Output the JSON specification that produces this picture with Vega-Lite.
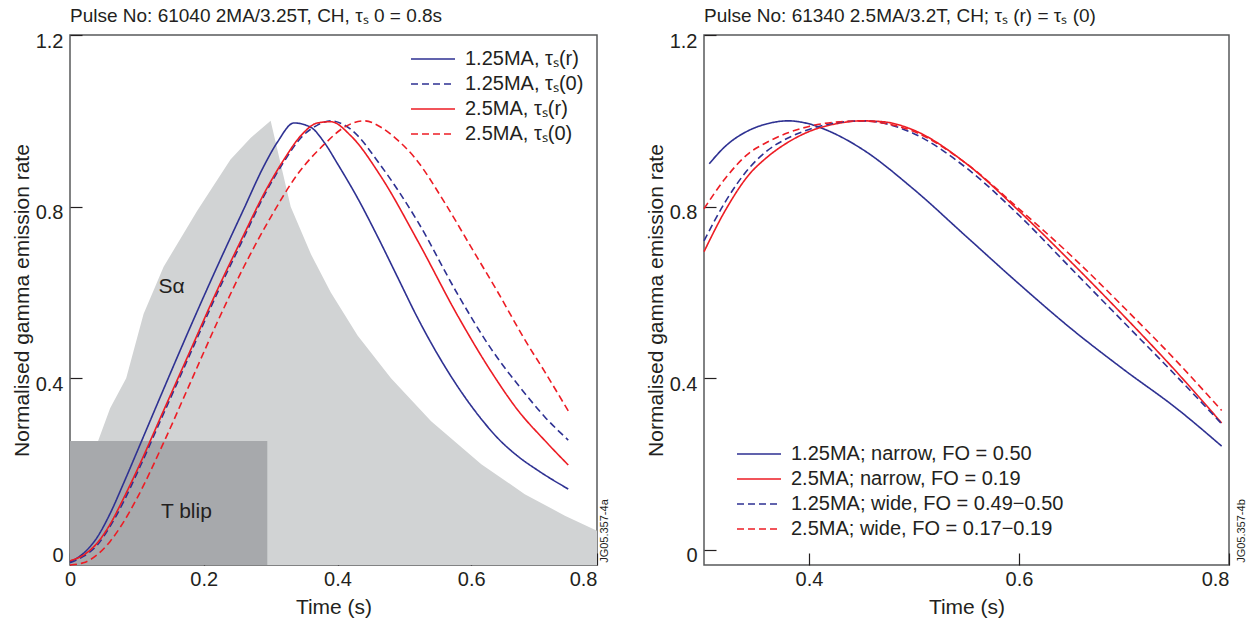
{
  "$schema": "https://vega.github.io/schema/vega-lite/v6.json",
  "padding": {"left": 10, "top": 6, "right": 5, "bottom": 5},
  "spacing": 107,
  "bounds": "flush",
  "background": "white",
  "config": {
    "font": "Liberation Sans",
    "view": {"stroke": "#58595b", "strokeWidth": 1.5},
    "axis": {"domain": false, "grid": false, "tickSize": -12, "tickColor": "#231f20", "tickWidth": 1.2, "labelFontSize": 20, "titleFontSize": 21, "labelColor": "#231f20", "titleColor": "#231f20", "titleFontWeight": "normal"},
    "axisX": {"labelPadding": 16, "titlePadding": 7},
    "axisY": {"labelPadding": 19, "titlePadding": 3},
    "legend": {"labelFontSize": 20, "labelColor": "#231f20", "symbolType": "M-2,0H2", "symbolStrokeWidth": 1.6, "symbolSize": 484, "rowPadding": 3, "padding": 0, "labelOffset": 20, "labelLimit": 500},
    "title": {"fontSize": 19, "fontWeight": "normal", "anchor": "start", "color": "#231f20", "offset": 5, "frame": "group"}
  },
  "datasets": {
    "sa": [
      {"t": 0, "v": -0.035}, {"t": 0.03, "v": 0.15}, {"t": 0.042, "v": 0.254}, {"t": 0.06, "v": 0.33}, {"t": 0.084, "v": 0.40},
      {"t": 0.11, "v": 0.55}, {"t": 0.14, "v": 0.66}, {"t": 0.19, "v": 0.79}, {"t": 0.24, "v": 0.91}, {"t": 0.27, "v": 0.96},
      {"t": 0.30, "v": 1.0}, {"t": 0.315, "v": 0.9}, {"t": 0.33, "v": 0.8}, {"t": 0.36, "v": 0.69}, {"t": 0.39, "v": 0.6},
      {"t": 0.43, "v": 0.5}, {"t": 0.48, "v": 0.4}, {"t": 0.54, "v": 0.3}, {"t": 0.615, "v": 0.2}, {"t": 0.68, "v": 0.13},
      {"t": 0.74, "v": 0.08}, {"t": 0.788, "v": 0.045}
    ],
    "left": [
      {"s": "1.25MA, τₛ(r)", "t": 0, "v": -0.028}, {"s": "1.25MA, τₛ(r)", "t": 0.02, "v": -0.008}, {"s": "1.25MA, τₛ(r)", "t": 0.04, "v": 0.028},
      {"s": "1.25MA, τₛ(r)", "t": 0.06, "v": 0.085}, {"s": "1.25MA, τₛ(r)", "t": 0.08, "v": 0.155}, {"s": "1.25MA, τₛ(r)", "t": 0.10, "v": 0.228},
      {"s": "1.25MA, τₛ(r)", "t": 0.14, "v": 0.375}, {"s": "1.25MA, τₛ(r)", "t": 0.18, "v": 0.52}, {"s": "1.25MA, τₛ(r)", "t": 0.22, "v": 0.66},
      {"s": "1.25MA, τₛ(r)", "t": 0.26, "v": 0.795}, {"s": "1.25MA, τₛ(r)", "t": 0.29, "v": 0.895}, {"s": "1.25MA, τₛ(r)", "t": 0.31, "v": 0.95},
      {"s": "1.25MA, τₛ(r)", "t": 0.335, "v": 0.995}, {"s": "1.25MA, τₛ(r)", "t": 0.36, "v": 0.985}, {"s": "1.25MA, τₛ(r)", "t": 0.38, "v": 0.95},
      {"s": "1.25MA, τₛ(r)", "t": 0.40, "v": 0.90}, {"s": "1.25MA, τₛ(r)", "t": 0.43, "v": 0.82}, {"s": "1.25MA, τₛ(r)", "t": 0.46, "v": 0.73},
      {"s": "1.25MA, τₛ(r)", "t": 0.49, "v": 0.635}, {"s": "1.25MA, τₛ(r)", "t": 0.52, "v": 0.54}, {"s": "1.25MA, τₛ(r)", "t": 0.55, "v": 0.455},
      {"s": "1.25MA, τₛ(r)", "t": 0.58, "v": 0.38}, {"s": "1.25MA, τₛ(r)", "t": 0.61, "v": 0.315}, {"s": "1.25MA, τₛ(r)", "t": 0.64, "v": 0.26},
      {"s": "1.25MA, τₛ(r)", "t": 0.67, "v": 0.218}, {"s": "1.25MA, τₛ(r)", "t": 0.70, "v": 0.185}, {"s": "1.25MA, τₛ(r)", "t": 0.745, "v": 0.142},

      {"s": "1.25MA, τₛ(0)", "t": 0, "v": -0.03}, {"s": "1.25MA, τₛ(0)", "t": 0.02, "v": -0.015}, {"s": "1.25MA, τₛ(0)", "t": 0.04, "v": 0.01},
      {"s": "1.25MA, τₛ(0)", "t": 0.06, "v": 0.055}, {"s": "1.25MA, τₛ(0)", "t": 0.08, "v": 0.112}, {"s": "1.25MA, τₛ(0)", "t": 0.10, "v": 0.178},
      {"s": "1.25MA, τₛ(0)", "t": 0.14, "v": 0.318}, {"s": "1.25MA, τₛ(0)", "t": 0.18, "v": 0.458}, {"s": "1.25MA, τₛ(0)", "t": 0.22, "v": 0.598},
      {"s": "1.25MA, τₛ(0)", "t": 0.26, "v": 0.728}, {"s": "1.25MA, τₛ(0)", "t": 0.29, "v": 0.825}, {"s": "1.25MA, τₛ(0)", "t": 0.32, "v": 0.905},
      {"s": "1.25MA, τₛ(0)", "t": 0.345, "v": 0.96}, {"s": "1.25MA, τₛ(0)", "t": 0.37, "v": 0.99}, {"s": "1.25MA, τₛ(0)", "t": 0.39, "v": 1.0},
      {"s": "1.25MA, τₛ(0)", "t": 0.42, "v": 0.98}, {"s": "1.25MA, τₛ(0)", "t": 0.465, "v": 0.895}, {"s": "1.25MA, τₛ(0)", "t": 0.52, "v": 0.765},
      {"s": "1.25MA, τₛ(0)", "t": 0.58, "v": 0.595}, {"s": "1.25MA, τₛ(0)", "t": 0.63, "v": 0.468}, {"s": "1.25MA, τₛ(0)", "t": 0.675, "v": 0.375},
      {"s": "1.25MA, τₛ(0)", "t": 0.71, "v": 0.31}, {"s": "1.25MA, τₛ(0)", "t": 0.745, "v": 0.256},

      {"s": "2.5MA, τₛ(r)", "t": 0, "v": -0.025}, {"s": "2.5MA, τₛ(r)", "t": 0.02, "v": -0.012}, {"s": "2.5MA, τₛ(r)", "t": 0.04, "v": 0.015},
      {"s": "2.5MA, τₛ(r)", "t": 0.06, "v": 0.06}, {"s": "2.5MA, τₛ(r)", "t": 0.08, "v": 0.12}, {"s": "2.5MA, τₛ(r)", "t": 0.10, "v": 0.185},
      {"s": "2.5MA, τₛ(r)", "t": 0.14, "v": 0.325}, {"s": "2.5MA, τₛ(r)", "t": 0.18, "v": 0.465}, {"s": "2.5MA, τₛ(r)", "t": 0.22, "v": 0.605},
      {"s": "2.5MA, τₛ(r)", "t": 0.26, "v": 0.735}, {"s": "2.5MA, τₛ(r)", "t": 0.29, "v": 0.83}, {"s": "2.5MA, τₛ(r)", "t": 0.32, "v": 0.91},
      {"s": "2.5MA, τₛ(r)", "t": 0.345, "v": 0.965}, {"s": "2.5MA, τₛ(r)", "t": 0.37, "v": 0.995}, {"s": "2.5MA, τₛ(r)", "t": 0.39, "v": 0.998},
      {"s": "2.5MA, τₛ(r)", "t": 0.42, "v": 0.965}, {"s": "2.5MA, τₛ(r)", "t": 0.465, "v": 0.87}, {"s": "2.5MA, τₛ(r)", "t": 0.52, "v": 0.72},
      {"s": "2.5MA, τₛ(r)", "t": 0.58, "v": 0.545}, {"s": "2.5MA, τₛ(r)", "t": 0.63, "v": 0.415}, {"s": "2.5MA, τₛ(r)", "t": 0.67, "v": 0.325},
      {"s": "2.5MA, τₛ(r)", "t": 0.71, "v": 0.255}, {"s": "2.5MA, τₛ(r)", "t": 0.745, "v": 0.198},

      {"s": "2.5MA, τₛ(0)", "t": 0, "v": -0.035}, {"s": "2.5MA, τₛ(0)", "t": 0.02, "v": -0.03}, {"s": "2.5MA, τₛ(0)", "t": 0.04, "v": -0.012},
      {"s": "2.5MA, τₛ(0)", "t": 0.06, "v": 0.02}, {"s": "2.5MA, τₛ(0)", "t": 0.08, "v": 0.065}, {"s": "2.5MA, τₛ(0)", "t": 0.10, "v": 0.12},
      {"s": "2.5MA, τₛ(0)", "t": 0.14, "v": 0.25}, {"s": "2.5MA, τₛ(0)", "t": 0.18, "v": 0.39}, {"s": "2.5MA, τₛ(0)", "t": 0.22, "v": 0.53},
      {"s": "2.5MA, τₛ(0)", "t": 0.26, "v": 0.66}, {"s": "2.5MA, τₛ(0)", "t": 0.30, "v": 0.775}, {"s": "2.5MA, τₛ(0)", "t": 0.34, "v": 0.875},
      {"s": "2.5MA, τₛ(0)", "t": 0.38, "v": 0.945}, {"s": "2.5MA, τₛ(0)", "t": 0.41, "v": 0.985}, {"s": "2.5MA, τₛ(0)", "t": 0.44, "v": 1.0},
      {"s": "2.5MA, τₛ(0)", "t": 0.465, "v": 0.985}, {"s": "2.5MA, τₛ(0)", "t": 0.49, "v": 0.955}, {"s": "2.5MA, τₛ(0)", "t": 0.515, "v": 0.915},
      {"s": "2.5MA, τₛ(0)", "t": 0.56, "v": 0.81}, {"s": "2.5MA, τₛ(0)", "t": 0.60, "v": 0.705}, {"s": "2.5MA, τₛ(0)", "t": 0.64, "v": 0.60},
      {"s": "2.5MA, τₛ(0)", "t": 0.68, "v": 0.49}, {"s": "2.5MA, τₛ(0)", "t": 0.71, "v": 0.415}, {"s": "2.5MA, τₛ(0)", "t": 0.745, "v": 0.324}
    ],
    "right": [
      {"s": "1.25MA; narrow, FO = 0.50", "t": 0.305, "v": 0.90}, {"s": "1.25MA; narrow, FO = 0.50", "t": 0.32, "v": 0.94},
      {"s": "1.25MA; narrow, FO = 0.50", "t": 0.343, "v": 0.978}, {"s": "1.25MA; narrow, FO = 0.50", "t": 0.36, "v": 0.993},
      {"s": "1.25MA; narrow, FO = 0.50", "t": 0.38, "v": 1.0}, {"s": "1.25MA; narrow, FO = 0.50", "t": 0.40, "v": 0.993},
      {"s": "1.25MA; narrow, FO = 0.50", "t": 0.42, "v": 0.975}, {"s": "1.25MA; narrow, FO = 0.50", "t": 0.45, "v": 0.935},
      {"s": "1.25MA; narrow, FO = 0.50", "t": 0.50, "v": 0.84}, {"s": "1.25MA; narrow, FO = 0.50", "t": 0.55, "v": 0.73},
      {"s": "1.25MA; narrow, FO = 0.50", "t": 0.60, "v": 0.62}, {"s": "1.25MA; narrow, FO = 0.50", "t": 0.65, "v": 0.515},
      {"s": "1.25MA; narrow, FO = 0.50", "t": 0.70, "v": 0.42}, {"s": "1.25MA; narrow, FO = 0.50", "t": 0.75, "v": 0.33},
      {"s": "1.25MA; narrow, FO = 0.50", "t": 0.793, "v": 0.242},

      {"s": "2.5MA; narrow, FO = 0.19", "t": 0.3, "v": 0.695}, {"s": "2.5MA; narrow, FO = 0.19", "t": 0.32, "v": 0.79},
      {"s": "2.5MA; narrow, FO = 0.19", "t": 0.343, "v": 0.875}, {"s": "2.5MA; narrow, FO = 0.19", "t": 0.36, "v": 0.915},
      {"s": "2.5MA; narrow, FO = 0.19", "t": 0.38, "v": 0.95}, {"s": "2.5MA; narrow, FO = 0.19", "t": 0.40, "v": 0.975},
      {"s": "2.5MA; narrow, FO = 0.19", "t": 0.43, "v": 0.995}, {"s": "2.5MA; narrow, FO = 0.19", "t": 0.45, "v": 1.0},
      {"s": "2.5MA; narrow, FO = 0.19", "t": 0.47, "v": 0.998}, {"s": "2.5MA; narrow, FO = 0.19", "t": 0.50, "v": 0.978},
      {"s": "2.5MA; narrow, FO = 0.19", "t": 0.55, "v": 0.90}, {"s": "2.5MA; narrow, FO = 0.19", "t": 0.60, "v": 0.79},
      {"s": "2.5MA; narrow, FO = 0.19", "t": 0.65, "v": 0.67}, {"s": "2.5MA; narrow, FO = 0.19", "t": 0.70, "v": 0.545},
      {"s": "2.5MA; narrow, FO = 0.19", "t": 0.75, "v": 0.415}, {"s": "2.5MA; narrow, FO = 0.19", "t": 0.793, "v": 0.296},

      {"s": "1.25MA; wide, FO = 0.49−0.50", "t": 0.3, "v": 0.72}, {"s": "1.25MA; wide, FO = 0.49−0.50", "t": 0.32, "v": 0.81},
      {"s": "1.25MA; wide, FO = 0.49−0.50", "t": 0.343, "v": 0.89}, {"s": "1.25MA; wide, FO = 0.49−0.50", "t": 0.36, "v": 0.93},
      {"s": "1.25MA; wide, FO = 0.49−0.50", "t": 0.38, "v": 0.96}, {"s": "1.25MA; wide, FO = 0.49−0.50", "t": 0.40, "v": 0.98},
      {"s": "1.25MA; wide, FO = 0.49−0.50", "t": 0.43, "v": 0.997}, {"s": "1.25MA; wide, FO = 0.49−0.50", "t": 0.45, "v": 1.0},
      {"s": "1.25MA; wide, FO = 0.49−0.50", "t": 0.47, "v": 0.995}, {"s": "1.25MA; wide, FO = 0.49−0.50", "t": 0.50, "v": 0.97},
      {"s": "1.25MA; wide, FO = 0.49−0.50", "t": 0.55, "v": 0.89}, {"s": "1.25MA; wide, FO = 0.49−0.50", "t": 0.60, "v": 0.78},
      {"s": "1.25MA; wide, FO = 0.49−0.50", "t": 0.65, "v": 0.655}, {"s": "1.25MA; wide, FO = 0.49−0.50", "t": 0.70, "v": 0.53},
      {"s": "1.25MA; wide, FO = 0.49−0.50", "t": 0.75, "v": 0.405}, {"s": "1.25MA; wide, FO = 0.49−0.50", "t": 0.793, "v": 0.294},

      {"s": "2.5MA; wide, FO = 0.17−0.19", "t": 0.3, "v": 0.795}, {"s": "2.5MA; wide, FO = 0.17−0.19", "t": 0.32, "v": 0.865},
      {"s": "2.5MA; wide, FO = 0.17−0.19", "t": 0.343, "v": 0.925}, {"s": "2.5MA; wide, FO = 0.17−0.19", "t": 0.36, "v": 0.95},
      {"s": "2.5MA; wide, FO = 0.17−0.19", "t": 0.38, "v": 0.972}, {"s": "2.5MA; wide, FO = 0.17−0.19", "t": 0.40, "v": 0.987},
      {"s": "2.5MA; wide, FO = 0.17−0.19", "t": 0.43, "v": 0.998}, {"s": "2.5MA; wide, FO = 0.17−0.19", "t": 0.45, "v": 1.0},
      {"s": "2.5MA; wide, FO = 0.17−0.19", "t": 0.47, "v": 0.995}, {"s": "2.5MA; wide, FO = 0.17−0.19", "t": 0.50, "v": 0.975},
      {"s": "2.5MA; wide, FO = 0.17−0.19", "t": 0.55, "v": 0.90}, {"s": "2.5MA; wide, FO = 0.17−0.19", "t": 0.60, "v": 0.795},
      {"s": "2.5MA; wide, FO = 0.17−0.19", "t": 0.65, "v": 0.685}, {"s": "2.5MA; wide, FO = 0.17−0.19", "t": 0.70, "v": 0.565},
      {"s": "2.5MA; wide, FO = 0.17−0.19", "t": 0.75, "v": 0.44}, {"s": "2.5MA; wide, FO = 0.17−0.19", "t": 0.793, "v": 0.325}
    ]
  },
  "hconcat": [
    {
      "width": 527,
      "height": 530,
      "title": {"text": "Pulse No: 61040 2MA/3.25T, CH, τₛ 0 = 0.8s"},
      "layer": [
        {
          "data": {"name": "sa"},
          "mark": {"type": "area", "color": "#d1d3d4", "interpolate": "linear"},
          "encoding": {
            "x": {"field": "t", "type": "quantitative", "scale": {"domain": [0, 0.788], "nice": false},
              "axis": {"title": "Time (s)", "values": [0, 0.2, 0.4, 0.6, 0.788], "labelExpr": "datum.value == 0 ? '0' : datum.value > 0.7 ? '0.8' : format(datum.value, '.1f')", "labelAlign": {"condition": {"test": "datum.value > 0.7", "value": "right"}, "value": "center"}}},
            "y": {"field": "v", "type": "quantitative", "scale": {"domain": [-0.035, 1.2], "nice": false, "zero": false},
              "axis": {"title": "Normalised gamma emission rate", "values": [0, 0.4, 0.8, 1.2], "labelExpr": "datum.value == 0 ? '0' : format(datum.value, '.1f')", "labelOffset": 6}},
            "y2": {"datum": -0.035}
          }
        },
        {
          "data": {"values": [{}]},
          "mark": {"type": "rect", "color": "#a7a9ac"},
          "encoding": {
            "x": {"datum": 0, "type": "quantitative"},
            "x2": {"datum": 0.295},
            "y": {"datum": -0.035, "type": "quantitative"},
            "y2": {"datum": 0.254}
          }
        },
        {
          "data": {"values": [{}]},
          "mark": {"type": "text", "text": "Sα", "fontSize": 21, "color": "#231f20"},
          "encoding": {"x": {"datum": 0.152, "type": "quantitative"}, "y": {"datum": 0.613, "type": "quantitative"}}
        },
        {
          "data": {"values": [{}]},
          "mark": {"type": "text", "text": "T blip", "fontSize": 21, "color": "#231f20"},
          "encoding": {"x": {"datum": 0.174, "type": "quantitative"}, "y": {"datum": 0.089, "type": "quantitative"}}
        },
        {
          "data": {"name": "left"},
          "mark": {"type": "line", "interpolate": "monotone", "strokeWidth": 1.6},
          "encoding": {
            "x": {"field": "t", "type": "quantitative"},
            "y": {"field": "v", "type": "quantitative"},
            "color": {"field": "s", "type": "nominal",
              "scale": {"domain": ["1.25MA, τₛ(r)", "1.25MA, τₛ(0)", "2.5MA, τₛ(r)", "2.5MA, τₛ(0)"], "range": ["#2e3192", "#2e3192", "#ed1c24", "#ed1c24"]},
              "legend": {"title": null, "orient": "none", "legendX": 351, "legendY": 12}},
            "strokeDash": {"field": "s", "type": "nominal",
              "scale": {"domain": ["1.25MA, τₛ(r)", "1.25MA, τₛ(0)", "2.5MA, τₛ(r)", "2.5MA, τₛ(0)"], "range": [[1, 0], [7, 4], [1, 0], [7, 4]]},
              "legend": {"title": null, "orient": "none", "legendX": 351, "legendY": 12}}
          }
        },
        {
          "data": {"values": [{}]},
          "mark": {"type": "text", "text": "JG05.357-4a", "fontSize": 11, "angle": 270, "align": "left", "baseline": "middle", "color": "#231f20"},
          "encoding": {"x": {"datum": 0.8, "type": "quantitative"}, "y": {"datum": -0.03, "type": "quantitative"}}
        }
      ]
    },
    {
      "width": 525,
      "height": 530,
      "title": {"text": "Pulse No: 61340 2.5MA/3.2T, CH; τₛ (r) = τₛ (0)"},
      "layer": [
        {
          "data": {"name": "right"},
          "mark": {"type": "line", "interpolate": "monotone", "strokeWidth": 1.6},
          "encoding": {
            "x": {"field": "t", "type": "quantitative", "scale": {"domain": [0.3, 0.8], "nice": false, "zero": false},
              "axis": {"title": "Time (s)", "values": [0.4, 0.6, 0.8], "format": ".1f", "labelAlign": {"condition": {"test": "datum.value > 0.7", "value": "right"}, "value": "center"}}},
            "y": {"field": "v", "type": "quantitative", "scale": {"domain": [-0.035, 1.2], "nice": false, "zero": false},
              "axis": {"title": "Normalised gamma emission rate", "values": [0, 0.4, 0.8, 1.2], "labelExpr": "datum.value == 0 ? '0' : format(datum.value, '.1f')", "labelOffset": 6}},
            "color": {"field": "s", "type": "nominal",
              "scale": {"domain": ["1.25MA; narrow, FO = 0.50", "2.5MA; narrow, FO = 0.19", "1.25MA; wide, FO = 0.49−0.50", "2.5MA; wide, FO = 0.17−0.19"], "range": ["#2e3192", "#ed1c24", "#2e3192", "#ed1c24"]},
              "legend": {"title": null, "orient": "none", "legendX": 43, "legendY": 407}},
            "strokeDash": {"field": "s", "type": "nominal",
              "scale": {"domain": ["1.25MA; narrow, FO = 0.50", "2.5MA; narrow, FO = 0.19", "1.25MA; wide, FO = 0.49−0.50", "2.5MA; wide, FO = 0.17−0.19"], "range": [[1, 0], [1, 0], [7, 4], [7, 4]]},
              "legend": {"title": null, "orient": "none", "legendX": 43, "legendY": 407}}
          }
        },
        {
          "data": {"values": [{}]},
          "mark": {"type": "text", "text": "JG05.357-4b", "fontSize": 11, "angle": 270, "align": "left", "baseline": "middle", "color": "#231f20"},
          "encoding": {"x": {"datum": 0.812, "type": "quantitative"}, "y": {"datum": -0.03, "type": "quantitative"}}
        }
      ]
    }
  ],
  "resolve": {"scale": {"color": "independent", "strokeDash": "independent", "x": "independent", "y": "independent"}}
}
